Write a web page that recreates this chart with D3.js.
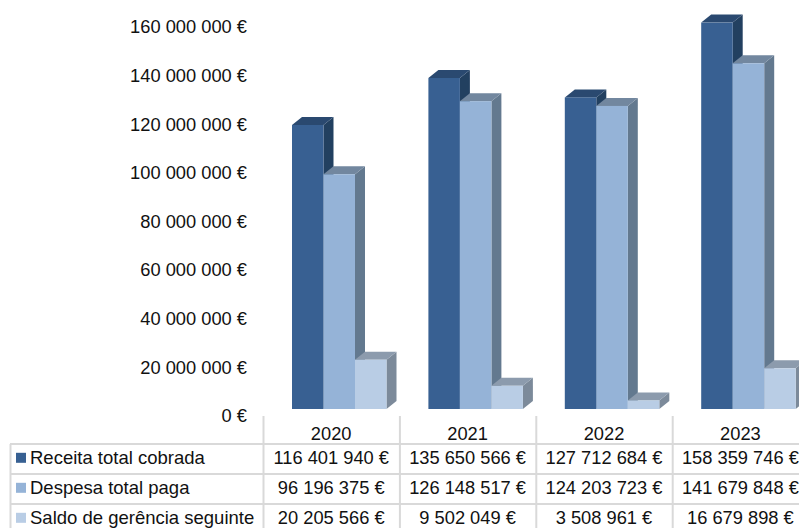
<!DOCTYPE html>
<html><head><meta charset="utf-8">
<script src="https://cdnjs.cloudflare.com/ajax/libs/d3/7.8.5/d3.min.js"></script>
<style>html,body{margin:0;padding:0;background:#fff}svg{display:block}text{font-family:"Liberation Sans",Arial,sans-serif;fill:#111}</style>
</head><body><div id="c"></div>
<script>
const years=["2020","2021","2022","2023"];
const seriesNames=["Receita total cobrada","Despesa total paga","Saldo de gerência seguinte"];
const receita=[116401940,135650566,127712684,158359746];
const despesa=[96196375,126148517,124203723,141679848];
const saldo=[20205566,9502049,3508961,16679898];
const axisTicks=[0,20e6,40e6,60e6,80e6,100e6,120e6,140e6,160e6];
const frontColors=["#376092","#95b3d7","#b9cde5"];
const sideColors=["#244061","#64798f","#7b8a9a"];
const topColors=["#2a4a70","#72879f","#8c9bad"];
const W=799,H=528,FS=18.3;
const fmt=v=>String(Math.round(v)).replace(/\B(?=(\d{3})+$)/g," ")+" €";
const svg=d3.select("#c").append("svg").attr("width",W).attr("height",H);
const defs=svg.append("defs");
defs.append("filter").attr("id","soft").append("feGaussianBlur").attr("stdDeviation",0.45);

const values=[receita,despesa,saldo];
const tableX=d3.scaleBand().domain(years).range([263.5,263.5+136.4*4]);
const yBar=d3.scaleLinear().domain([0,160e6]).range([409,18.6]);
const yLabel=d3.scaleLinear().domain([0,160e6]).range([415.2,26.2]);
const inner=d3.scaleBand().domain([0,1,2]).range([28.5,28.5+94.5]);
const dx=10,dy=8;

const axisG=svg.append("g").attr("transform","translate(247,0)");
axisG.call(d3.axisLeft(yLabel).tickValues(axisTicks).tickFormat(fmt).tickSize(0).tickPadding(0));
axisG.select(".domain").remove();
axisG.selectAll("text").attr("font-size",FS).attr("font-family",'"Liberation Sans",Arial,sans-serif').attr("fill","#111").attr("dy","0.36em");

const marks=svg.append("g").attr("filter","url(#soft)");
years.forEach((yr,i)=>{
  const g=marks.append("g").attr("transform",`translate(${tableX(yr)},0)`);
  [0,1,2].forEach(s=>{
    const x0=inner(s),x1=x0+inner.bandwidth(),yt=yBar(values[s][i]),yb=yBar(0);
    g.append("path").attr("fill",sideColors[s])
      .attr("d",d3.line()([[x1,yt],[x1+dx,yt-dy],[x1+dx,yb-dy],[x1,yb]]));
    g.append("path").attr("fill",topColors[s])
      .attr("d",d3.line()([[x0,yt],[x0+dx,yt-dy],[x1+dx,yt-dy],[x1,yt]]));
    g.append("rect").attr("x",x0).attr("y",yt).attr("width",x1-x0).attr("height",yb-yt).attr("fill",frontColors[s]);
  });
});

const grid="#d9d9d9";
const rowY=d3.scaleBand().domain([0,1,2]).range([444,444+90]);
const t=svg.append("g");
[0,1,2].forEach(r=>{
  t.append("line").attr("x1",10).attr("x2",W).attr("y1",rowY(r)).attr("y2",rowY(r)).attr("stroke",grid).attr("stroke-width",2);
});
t.append("line").attr("x1",10.5).attr("x2",10.5).attr("y1",444).attr("y2",H).attr("stroke",grid).attr("stroke-width",2);
years.forEach(yr=>{
  t.append("line").attr("x1",tableX(yr)).attr("x2",tableX(yr)).attr("y1",416).attr("y2",H).attr("stroke",grid).attr("stroke-width",2);
  t.append("text").attr("x",tableX(yr)+tableX.bandwidth()/2-0.5).attr("y",433.3).attr("dy","0.36em").attr("text-anchor","middle").attr("font-size",FS).text(yr);
});
seriesNames.forEach((n,r)=>{
  const cy=rowY(r)+rowY.bandwidth()/2-1.7;
  t.append("rect").attr("x",16).attr("y",cy-4.5).attr("width",10).attr("height",10).attr("fill",frontColors[r]);
  t.append("text").attr("x",30).attr("y",cy).attr("dy","0.36em").attr("font-size",FS+0.2).text(n);
  years.forEach((yr,i)=>{
    t.append("text").attr("x",tableX(yr)+tableX.bandwidth()/2-0.5).attr("y",cy).attr("dy","0.36em").attr("text-anchor","middle").attr("font-size",FS).text(fmt(values[r][i]));
  });
});
</script></body></html>
